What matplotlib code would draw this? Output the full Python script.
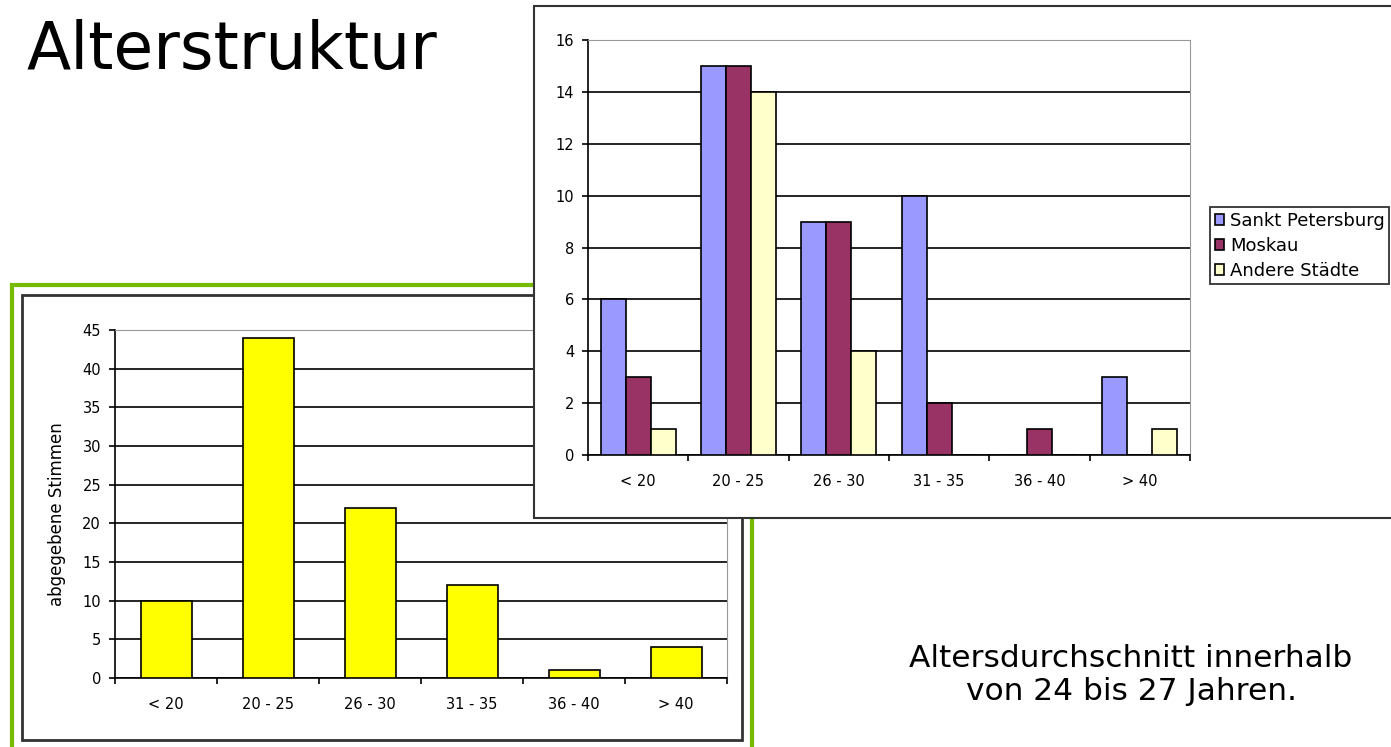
import matplotlib.pyplot as plt
from matplotlib.patches import Rectangle
import numpy as np

# Data
categories = ['< 20', '20 - 25', '26 - 30', '31 - 35', '36 - 40', '> 40']
votes_total = [10, 44, 22, 12, 1, 4]

cities = ['Sankt Petersburg', 'Moskau', 'Andere Städte']
spb = [6, 15, 9, 10, 0, 3]
moskau = [3, 15, 9, 2, 1, 0]
andere = [1, 14, 4, 0, 0, 1]
city_colors = ['#9999FF', '#993366', '#FFFFCC']

W, H = 1391, 747
fig = plt.figure(figsize=(W / 100, H / 100), dpi=100)
fig.patch.set_facecolor('white')


def px_rect(x0, y0, x1, y1):
    # pixel box (top-left origin) -> figure fraction [left, bottom, width, height]
    return [x0 / W, 1 - y1 / H, (x1 - x0) / W, (y1 - y0) / H]


def frame(x0, y0, x1, y1, **kw):
    l, b, w, h = px_rect(x0, y0, x1, y1)
    r = Rectangle((l, b), w, h, transform=fig.transFigure, **kw)
    fig.add_artist(r)
    return r


def style_axes(ax, ymax, ystep):
    n = len(categories)
    x = np.arange(n)
    ax.set_xlim(-0.5, n - 0.5)
    ax.set_ylim(0, ymax)
    ax.set_yticks(np.arange(0, ymax + 1, ystep))
    ax.set_xticks(x)
    ax.set_xticklabels(categories)
    ax.set_xticks(np.arange(-0.5, n, 1), minor=True)
    ax.tick_params(axis='x', which='major', length=0, pad=14, labelsize=10.5)
    ax.tick_params(axis='x', which='minor', length=4, width=1.2, direction='out')
    ax.tick_params(axis='y', length=4, width=1.2, direction='out', pad=6, labelsize=10.5)
    ax.yaxis.grid(True, color='black', linewidth=1.2)
    ax.set_axisbelow(True)
    ax.spines['top'].set_color('#999999')
    ax.spines['right'].set_color('#999999')
    ax.spines['left'].set_color('black')
    ax.spines['bottom'].set_color('black')
    ax.spines['left'].set_linewidth(1.2)
    ax.spines['bottom'].set_linewidth(1.2)


# Title
fig.text(27 / W, 1 - 51 / H, 'Alterstruktur', fontsize=46.5, va='center', ha='left',
         family='DejaVu Sans')

# Left chart frames
frame(12, 285, 752, 760, facecolor='white', edgecolor='#77BB00', linewidth=3, zorder=0)
frame(22, 295, 742, 740, facecolor='white', edgecolor='#333333', linewidth=2, zorder=0.5)

ax1 = fig.add_axes(px_rect(115, 330, 727, 678))
ax1.set_zorder(1)
ax1.set_facecolor('white')
x = np.arange(len(categories))
ax1.bar(x, votes_total, width=0.5, color='#FFFF00', edgecolor='black', linewidth=1.2, zorder=3)
style_axes(ax1, 45, 5)
ax1.set_ylabel('abgegebene Stimmen', fontsize=12, family='DejaVu Sans')
ax1.yaxis.set_label_coords(-0.08, 0.47)

# Right chart box (drawn above left chart)
box = Rectangle((534 / W, 1 - 518 / H), (1400 - 534) / W, (518 - 6) / H,
                transform=fig.transFigure, facecolor='white', edgecolor='#333333',
                linewidth=1.5, zorder=2)
fig.add_artist(box)

ax2 = fig.add_axes(px_rect(588, 40, 1190, 455))
ax2.set_zorder(3)
ax2.set_facecolor('white')
offsets = [-0.25, 0, 0.25]
for vals, off, col, name in zip([spb, moskau, andere], offsets, city_colors, cities):
    ax2.bar(x + off, vals, width=0.25, color=col, edgecolor='black', linewidth=1.2,
            label=name, zorder=3)
style_axes(ax2, 16, 2)

leg = ax2.legend(loc='upper left', bbox_to_anchor=(1210 / W, 1 - 207 / H),
                 bbox_transform=fig.transFigure, frameon=True, fancybox=False,
                 edgecolor='black', prop={'family': 'DejaVu Sans', 'size': 13},
                 handlelength=0.55, handleheight=0.55, handletextpad=0.3,
                 labelspacing=0.4, borderpad=0.25, borderaxespad=0)
leg.get_frame().set_linewidth(1.3)

# Note text
fig.text(1131 / W, 1 - 675 / H, 'Altersdurchschnitt innerhalb\nvon 24 bis 27 Jahren.',
         fontsize=22.5, ha='center', va='center', family='DejaVu Sans', linespacing=1.2)

plt.savefig('out.png', dpi=100)
